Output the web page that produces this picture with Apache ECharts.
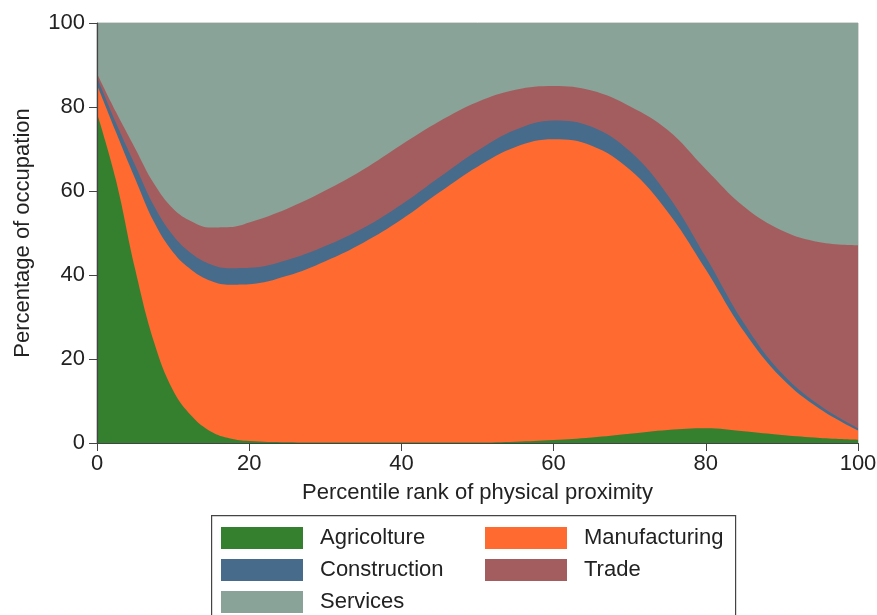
<!DOCTYPE html>
<html>
<head>
<meta charset="utf-8">
<script src="https://cdn.jsdelivr.net/npm/echarts@6/dist/echarts.min.js"></script>
<style>
html,body{margin:0;padding:0;background:#fff;}
#chart{width:877px;height:615px;}
</style>
</head>
<body>
<div id="chart"></div>
<script>
// Percentile rank of physical proximity
const xValues = [0, 2.5, 5, 7.5, 10, 12.5, 15, 17.5, 20, 25, 30, 35, 40, 45, 50, 55, 60, 65, 70, 75, 80, 85, 90, 95, 100];
// Share of occupation (%) by sector
const agricolture   = [78.5, 62.5, 41.5, 24.0, 12.5, 6.3, 2.7, 1.1, 0.5, 0.2, 0.1, 0.1, 0.1, 0.1, 0.1, 0.3, 0.7, 1.3, 2.2, 3.1, 3.5, 2.8, 1.9, 1.2, 0.8];
const manufacturing = [6.8, 11.5, 21.5, 28.6, 32.9, 34.8, 35.9, 36.6, 37.3, 39.6, 43.2, 47.6, 53.1, 59.6, 65.7, 70.2, 71.6, 69.5, 62.9, 51.9, 37.8, 23.8, 13.5, 6.9, 2.2];
const construction  = [1.8, 2.2, 3.2, 3.8, 4.0, 3.9, 3.9, 3.9, 3.9, 3.8, 3.6, 3.5, 3.6, 3.6, 3.8, 4.1, 4.5, 4.5, 4.4, 4.0, 3.0, 2.0, 1.2, 0.8, 0.5];
const trade         = [0.9, 2.6, 4.0, 5.3, 6.4, 7.7, 8.8, 9.8, 10.8, 12.2, 13.2, 13.9, 14.2, 13.3, 11.6, 9.5, 8.2, 8.6, 10.7, 15.5, 20.9, 27.7, 34.0, 38.9, 43.6];
const services      = [12.0, 21.2, 29.8, 38.3, 44.2, 47.3, 48.7, 48.6, 47.5, 44.2, 39.9, 34.9, 29.0, 23.4, 18.8, 15.9, 15.0, 16.1, 19.8, 25.5, 34.8, 43.7, 49.4, 52.2, 52.9];

const seriesNames = ['Agricolture', 'Manufacturing', 'Construction', 'Trade', 'Services'];
const seriesData = [agricolture, manufacturing, construction, trade, services];
const seriesColors = ['#34802f', '#fe6a2f', '#476b8b', '#a45d5f', '#89a398'];

const xTicks = [0, 20, 40, 60, 80, 100];
const yTicks = [0, 20, 40, 60, 80, 100];

// cumulative (stacked) tops, built from the series arrays
const cumulative = [];
seriesData.forEach((arr, i) => {
  cumulative.push(arr.map((v, j) => v + (i > 0 ? cumulative[i - 1][j] : 0)));
});

const chart = echarts.init(document.getElementById('chart'), null, {renderer: 'canvas'});
const FONT = 'Liberation Sans, Arial, sans-serif';
const TXT = '#222';
const FS = 22;

const series = seriesNames.map((name, i) => ({
  name: name,
  type: 'line',
  smooth: 0.4,
  symbol: 'none',
  lineStyle: {width: 0},
  areaStyle: {color: seriesColors[i], opacity: 1, origin: 'start'},
  itemStyle: {color: seriesColors[i]},
  data: xValues.map((x, j) => [x, +cumulative[i][j].toFixed(2)]),
  z: 10 - i
}));

const option = {
  animation: false,
  backgroundColor: '#fff',
  grid: {left: 97, right: 19, top: 23, bottom: 172, show: true, borderColor: '#b0b0b0', borderWidth: 1,
    outerBoundsMode: 'none', containLabel: false},
  xAxis: {
    type: 'value', min: 0, max: 100, interval: 20,
    name: 'Percentile rank of physical proximity',
    nameLocation: 'middle', nameGap: 39,
    nameTextStyle: {fontFamily: FONT, fontSize: FS, color: TXT},
    axisLine: {show: true, onZero: false, lineStyle: {color: '#444', width: 1.2}},
    axisTick: {show: true, length: 8, lineStyle: {color: '#444'}},
    axisLabel: {fontFamily: FONT, fontSize: FS, color: TXT, margin: 10, showMaxLabel: true, showMinLabel: true,
      formatter: v => xTicks.includes(v) ? String(v) : ''},
    splitLine: {show: false},
    z: 20
  },
  yAxis: {
    type: 'value', min: 0, max: 100, interval: 20,
    name: 'Percentage of occupation',
    nameLocation: 'middle', nameGap: 63,
    nameTextStyle: {fontFamily: FONT, fontSize: FS, color: TXT},
    axisLine: {show: true, lineStyle: {color: '#444', width: 1.2}},
    axisTick: {show: true, length: 8, lineStyle: {color: '#444'}},
    axisLabel: {fontFamily: FONT, fontSize: FS, color: TXT, margin: 12,
      formatter: v => yTicks.includes(v) ? String(v) : ''},
    splitLine: {show: false},
    z: 20
  },
  legend: [
    {
      data: ['Agricolture', 'Construction', 'Services'],
      orient: 'vertical', left: 221, top: 527, padding: 0, height: 100,
      itemWidth: 82, itemHeight: 22, itemGap: 10,
      icon: 'rect',
      textStyle: {fontFamily: FONT, fontSize: FS, color: TXT, padding: [0, 0, 0, 12]},
      selectedMode: false
    },
    {
      data: ['Manufacturing', 'Trade'],
      orient: 'vertical', left: 485, top: 527, padding: 0, height: 100,
      itemWidth: 82, itemHeight: 22, itemGap: 10,
      icon: 'rect',
      textStyle: {fontFamily: FONT, fontSize: FS, color: TXT, padding: [0, 0, 0, 12]},
      selectedMode: false
    }
  ],
  graphic: [
    {type: 'rect', left: 211, top: 515, z: -1,
      shape: {width: 524, height: 110},
      style: {fill: '#fff', stroke: '#444', lineWidth: 1.2}}
  ],
  series: series
};
chart.setOption(option);
</script>
</body>
</html>
